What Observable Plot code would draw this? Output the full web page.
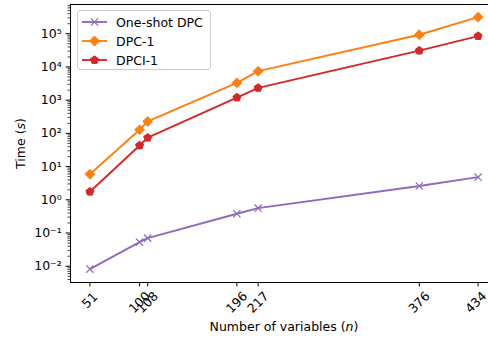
<!DOCTYPE html>
<html><head><meta charset="utf-8">
<script src="https://cdn.jsdelivr.net/npm/d3@7"></script>
<script src="https://cdn.jsdelivr.net/npm/@observablehq/plot@0.6"></script>
<style>
body{margin:0;background:white;}
#wrap{position:relative;width:488px;height:338px;overflow:hidden;font-family:"DejaVu Sans",sans-serif;}
#legend{position:absolute;left:77px;top:10px;width:134px;height:60px;border:1px solid #cccccc;border-radius:3px;background:rgba(255,255,255,0.8);box-sizing:border-box;}
.lrow{position:absolute;left:0;height:19px;display:flex;align-items:center;font-size:12.5px;color:black;white-space:nowrap;}
.lrow svg{margin-left:4px;margin-right:9px;}
</style></head><body><div id="wrap"></div>
<script>
const nVars = [51, 100, 108, 196, 217, 376, 434];
const oneShotDPC = [0.0082, 0.053, 0.070, 0.38, 0.56, 2.6, 4.8];
const dpc1 = [5.9, 128, 229, 3330, 7450, 93000, 316000];
const dpci1 = [1.75, 43, 74, 1200, 2350, 31000, 85000];
const seriesNames = ["One-shot DPC", "DPC-1", "DPCI-1"];
const seriesColors = ["#9467bd", "#ff7f0e", "#d62728"];
const xTicks = [51, 100, 108, 196, 217, 376, 434];
const yTicks = [1e-2, 1e-1, 1, 10, 100, 1e3, 1e4, 1e5];
const yTickLabels = ["10⁻²", "10⁻¹", "10⁰", "10¹", "10²", "10³", "10⁴", "10⁵"];
const xLabel = "Number of variables (n)";
const yLabel = "Time (s)";

const yDomain = [Math.pow(10, -2.49), Math.pow(10, 5.88)];
const seriesValues = [oneShotDPC, dpc1, dpci1];
const rows = [];
seriesValues.forEach((vals, s) => vals.forEach((v, i) => rows.push({series: seriesNames[s], n: nVars[i], t: v})));

const pentagon = {draw(ctx, size) {
  const r = Math.sqrt(size / Math.PI);
  for (let i = 0; i < 5; i++) {
    const a = -Math.PI / 2 + i * 2 * Math.PI / 5;
    const x = r * Math.cos(a), y = r * Math.sin(a);
    if (i === 0) ctx.moveTo(x, y); else ctx.lineTo(x, y);
  }
  ctx.closePath();
}};

const minor = [];
for (let d = -3; d <= 5; d++) for (let k = 2; k <= 9; k++) {
  const v = k * Math.pow(10, d);
  if (v >= yDomain[0] && v <= yDomain[1]) minor.push(v);
}

const symbolSpecs = [
  {symbol: "times", r: 3.4, filled: false},
  {symbol: "diamond2", r: 4.4, filled: true},
  {symbol: pentagon, r: 4.2, filled: true}
];

const seriesMarks = [];
seriesNames.forEach((name, s) => {
  const data = rows.filter(d => d.series === name);
  const sp = symbolSpecs[s];
  seriesMarks.push(Plot.line(data, {x: "n", y: "t", stroke: seriesColors[s], strokeWidth: 1.9}));
  seriesMarks.push(Plot.dot(data, sp.filled
    ? {x: "n", y: "t", symbol: sp.symbol, r: sp.r, fill: seriesColors[s], stroke: seriesColors[s], strokeWidth: 1}
    : {x: "n", y: "t", symbol: sp.symbol, r: sp.r, stroke: seriesColors[s], strokeWidth: 1.2}));
});

const lastTick = xTicks[xTicks.length - 1];
const tickText = (filterFn, dy, dx) => Plot.text(xTicks.filter(filterFn), {x: d => d, text: d => String(d),
  frameAnchor: "bottom", dy, dx, rotate: -45, textAnchor: "middle", lineAnchor: "middle"});

const chart = Plot.plot({
  width: 488, height: 338,
  marginLeft: 70, marginRight: -9, marginTop: 4, marginBottom: 56,
  style: {fontFamily: '"DejaVu Sans", sans-serif', fontSize: "12.5px", color: "black", background: "white"},
  x: {domain: [31.85, 453.15]},
  y: {type: "log", domain: yDomain},
  marks: [
    Plot.axisY({ticks: minor, tickSize: 2.5, tickFormat: () => "", strokeWidth: 0.75, label: null}),
    Plot.axisY({ticks: yTicks, tickSize: 4.4, tickPadding: 4.4, strokeWidth: 1, label: null,
      tickFormat: d => yTickLabels[yTicks.indexOf(d)]}),
    Plot.axisX({ticks: xTicks, tickSize: 4.4, tickFormat: () => "", strokeWidth: 1, label: null}),
    tickText(d => String(d).length === 2, 18, 0),
    tickText(d => String(d).length === 3 && d !== lastTick, 20, 0),
    tickText(d => d === lastTick, 20, -2),
    Plot.text([xLabel], {frameAnchor: "bottom", dy: 44.5, textAnchor: "middle", lineAnchor: "middle"}),
    Plot.text([yLabel], {frameAnchor: "left", dx: -50, rotate: -90, textAnchor: "middle", lineAnchor: "middle"}),
    ...seriesMarks,
    Plot.frame({stroke: "black", strokeWidth: 1})
  ]
});

// italics for variable names in labels
d3.select(chart).selectAll("text").each(function() {
  const t = this.textContent;
  if (t === xLabel || t === yLabel) {
    const m = t.match(/^(.*\()(\w)(\).*)$/);
    const sel = d3.select(this);
    const target = sel.select("tspan").empty() ? sel : sel.select("tspan");
    target.text(null);
    target.append("tspan").text(m[1]);
    target.append("tspan").style("font-style", "italic").text(m[2]);
    target.append("tspan").text(m[3]);
  }
});

const wrap = document.getElementById("wrap");
wrap.appendChild(chart);

// legend
const legend = document.createElement("div");
legend.id = "legend";
const pentPath = (() => { let p = ""; for (let i = 0; i < 5; i++) { const a = -Math.PI/2 + i*2*Math.PI/5; p += (i ? "L" : "M") + (4.2*Math.cos(a)).toFixed(2) + "," + (4.2*Math.sin(a)).toFixed(2); } return p + "Z"; })();
const symPaths = [
  '<path d="M-3.6,-3.6L3.6,3.6M3.6,-3.6L-3.6,3.6" stroke="C" stroke-width="1.2" fill="none"/>',
  '<path d="M0,-5L5,0L0,5L-5,0Z" fill="C" stroke="C" stroke-width="1"/>',
  '<path d="' + pentPath + '" fill="C" stroke="C" stroke-width="1"/>'
];
seriesNames.forEach((name, s) => {
  const row = document.createElement("div");
  row.className = "lrow";
  row.style.top = (1.5 + s * 19.2) + "px";
  row.innerHTML = '<svg width="25" height="14" viewBox="-12.5 -7 25 14" style="overflow:visible">' +
    '<line x1="-12.5" x2="12.5" y1="0" y2="0" stroke="' + seriesColors[s] + '" stroke-width="1.9"/>' +
    symPaths[s].replace(/"C"/g, '"' + seriesColors[s] + '"') + '</svg><span>' + name + '</span>';
  legend.appendChild(row);
});
wrap.appendChild(legend);
</script>
</body></html>
